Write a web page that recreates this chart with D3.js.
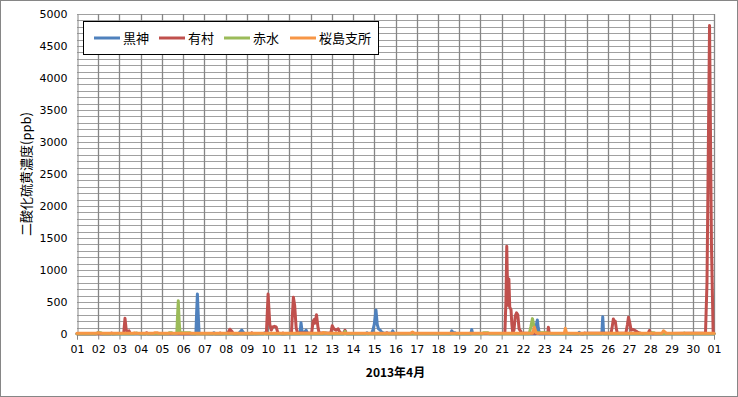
<!DOCTYPE html>
<html><head><meta charset="utf-8">
<script src="https://cdn.jsdelivr.net/npm/d3@7"></script>
<style>body{margin:0;background:#fff}svg{display:block}</style>
</head><body>
<script>
// day-of-month (decimal) and SO2 value (ppb)
const kurokami = [[1,5],[1.9,5],[2.0,15],[2.1,5],[5.0,5],[6.6,5],[6.63,300],[6.67,625],[6.71,300],[6.75,10],[7.4,5],[7.45,20],[7.5,5],[8.6,5],[8.7,40],[8.76,60],[8.82,30],[8.9,5],[9.8,5],[9.85,20],[9.9,5],[11.5,5],[11.55,177],[11.6,40],[11.7,20],[11.79,60],[11.85,10],[12.1,5],[13.55,5],[13.62,50],[13.7,5],[14.6,5],[14.66,20],[14.7,5],[14.88,10],[14.95,80],[15.0,150],[15.08,375],[15.14,150],[15.2,80],[15.28,60],[15.35,30],[15.45,10],[15.82,10],[15.87,50],[15.93,10],[18.6,5],[18.65,50],[18.7,25],[18.8,20],[18.85,5],[19.55,5],[19.59,70],[19.63,10],[22.6,5],[22.64,150],[22.68,220],[22.72,100],[22.78,5],[24.6,5],[24.65,25],[24.72,5],[25.72,5],[25.74,150],[25.76,270],[25.78,150],[25.8,5],[28.6,5],[28.65,15],[28.7,5],[31,5]];
const arimura = [[1,5],[2.58,5],[2.63,15],[2.68,5],[3.2,10],[3.26,245],[3.32,60],[3.38,40],[3.45,50],[3.5,10],[4.22,5],[4.28,20],[4.34,5],[7.7,5],[7.74,15],[7.78,5],[8.1,10],[8.2,75],[8.3,40],[8.35,5],[9.2,5],[9.23,20],[9.27,5],[9.92,10],[10.0,625],[10.08,150],[10.15,60],[10.22,110],[10.3,120],[10.38,110],[10.45,30],[10.5,10],[10.66,5],[10.7,15],[10.74,5],[11.1,10],[11.19,575],[11.25,450],[11.32,100],[11.38,20],[12.05,10],[12.12,200],[12.18,230],[12.22,170],[12.28,300],[12.35,100],[12.4,20],[12.95,10],[13.02,130],[13.1,80],[13.2,60],[13.3,80],[13.38,30],[13.45,10],[13.6,10],[13.62,60],[13.66,10],[15.55,5],[15.59,20],[15.64,5],[21.15,10],[21.2,500],[21.24,1370],[21.29,450],[21.34,860],[21.38,420],[21.44,380],[21.48,150],[21.52,20],[21.58,60],[21.64,280],[21.7,330],[21.76,300],[21.82,80],[21.9,40],[21.95,10],[23.17,10],[23.2,105],[23.24,10],[24.85,5],[24.9,15],[25.0,10],[26.15,10],[26.2,100],[26.26,235],[26.3,180],[26.35,200],[26.4,80],[26.45,10],[26.85,10],[26.92,140],[26.97,260],[27.03,180],[27.1,60],[27.2,70],[27.3,50],[27.4,30],[27.5,15],[27.6,5],[27.9,10],[27.96,55],[28.02,20],[28.1,5],[30.6,15],[30.67,800],[30.79,4820],[30.88,1400],[30.96,10],[31,5]];
const akamizu = [[1,5],[1.9,5],[2.0,20],[2.1,20],[2.2,5],[3.7,5],[3.8,15],[3.9,5],[5.3,5],[5.35,20],[5.45,20],[5.5,5],[5.7,10],[5.73,250],[5.77,520],[5.81,200],[5.85,20],[6.1,20],[6.3,20],[6.4,5],[12.6,5],[12.7,15],[12.8,5],[13.58,5],[13.62,40],[13.68,5],[20.1,5],[20.15,20],[20.35,20],[20.4,5],[22.3,5],[22.38,120],[22.45,240],[22.52,120],[22.58,40],[22.7,20],[23.0,20],[23.2,15],[23.3,5],[28.0,5],[28.08,20],[28.18,20],[28.25,5],[29.55,5],[29.6,15],[29.65,5],[31,5]];
const sakurajima = [[1,10],[1.9,10],[2.0,20],[2.1,10],[3.65,10],[3.7,20],[3.75,10],[4.6,10],[4.65,20],[4.8,20],[4.85,10],[12.55,10],[12.6,25],[12.7,10],[16.7,10],[16.8,30],[16.9,10],[22.45,10],[22.54,105],[22.62,20],[22.7,10],[23.95,10],[24.0,90],[24.05,20],[24.1,10],[28.55,10],[28.62,50],[28.7,30],[28.75,10],[31,10]];

const seriesNames = ["黒神","有村","赤水","桜島支所"];
const seriesColors = ["#4F81BD","#C0504D","#9BBB59","#F79646"];
const seriesData = [kurokami, arimura, akamizu, sakurajima];
const dayLabels = ["01","02","03","04","05","06","07","08","09","10","11","12","13","14","15","16","17","18","19","20","21","22","23","24","25","26","27","28","29","30","01"];
const yTicks = [0,500,1000,1500,2000,2500,3000,3500,4000,4500,5000];
const xTitle = "2013年4月";
const yTitle = "二酸化硫黄濃度(ppb)";

const W = 738, H = 397;
const svg = d3.select("body").append("svg").attr("width", W).attr("height", H);
svg.append("rect").attr("x",0.5).attr("y",0.5).attr("width",W-1).attr("height",H-1)
  .attr("fill","#fff").attr("stroke","#868686");

const x = d3.scaleLinear().domain([1,31]).range([77,714]);
const y = d3.scaleLinear().domain([0,5000]).range([334,14]);

// horizontal gridlines every 100
const g = svg.append("g");
g.selectAll("line.h").data(d3.range(100,5001,100)).join("line")
  .attr("x1",x(1)).attr("x2",x(31))
  .attr("y1",d=>Math.round(y(d))+0.5).attr("y2",d=>Math.round(y(d))+0.5)
  .attr("stroke","#a0a0a0").attr("stroke-width",1);
// vertical gridlines each day
g.selectAll("line.v").data(d3.range(2,32)).join("line")
  .attr("x1",d=>Math.round(x(d))+0.5).attr("x2",d=>Math.round(x(d))+0.5)
  .attr("y1",y(5000)).attr("y2",y(0))
  .attr("stroke","#868686").attr("stroke-width",1.3);

// axes
const xAxis = d3.axisBottom(x).tickValues(d3.range(1,32)).tickFormat((d,i)=>dayLabels[i]).tickSize(5).tickPadding(6);
const ax = svg.append("g").attr("transform",`translate(0,${Math.round(y(0))+0.5})`).call(xAxis);
ax.select(".domain").attr("stroke","#868686");
ax.selectAll(".tick line").attr("stroke","#868686");
ax.selectAll("text").attr("font-family","DejaVu Sans").attr("font-size",11).attr("fill","#000");

const yAxis = d3.axisLeft(y).tickValues(yTicks).tickFormat(d3.format("d")).tickSize(0).tickPadding(10);
const ay = svg.append("g").attr("transform",`translate(${Math.round(x(1))+0.5},0)`).call(yAxis);
ay.select(".domain").attr("stroke","#868686");
ay.selectAll("text").attr("font-family","DejaVu Sans").attr("font-size",11).attr("fill","#000");

// lines
const line = d3.line().x(d=>x(d[0])).y(d=>y(d[1]));
seriesData.forEach((data,i)=>{
  svg.append("path").datum(data).attr("d",line)
    .attr("fill","none").attr("stroke",seriesColors[i]).attr("stroke-width",3)
    .attr("stroke-linejoin","round").attr("stroke-linecap","round");
});

// titles
svg.append("text").attr("x",(x(1)+x(31))/2).attr("y",377).attr("text-anchor","middle")
  .attr("font-family","Noto Sans CJK JP").attr("font-weight","bold").attr("font-size",12).text(xTitle);
svg.append("text").attr("transform",`translate(31,${(y(0)+y(5000))/2}) rotate(-90)`)
  .attr("text-anchor","middle").attr("font-family","Noto Sans CJK JP").attr("font-size",13).text(yTitle);

// legend
const lg = svg.append("g");
lg.append("rect").attr("x",83.5).attr("y",21.5).attr("width",295).attr("height",33)
  .attr("fill","#fff").attr("stroke","#000");
const lx = [94,159,224,290];
seriesNames.forEach((n,i)=>{
  lg.append("line").attr("x1",lx[i]).attr("x2",lx[i]+26).attr("y1",38).attr("y2",38)
    .attr("stroke",seriesColors[i]).attr("stroke-width",3);
  lg.append("text").attr("x",lx[i]+29).attr("y",43).attr("font-family","Noto Sans CJK JP")
    .attr("font-size",13).text(n);
});
</script>
</body></html>
